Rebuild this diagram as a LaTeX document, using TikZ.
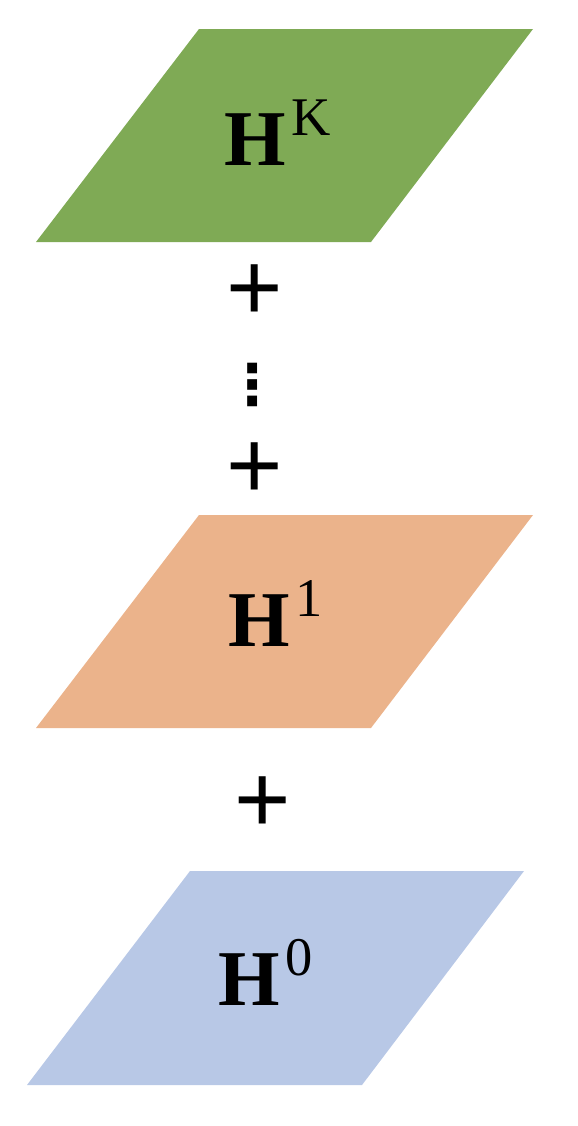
\documentclass[tikz,border=0pt]{standalone}
\usepackage{fontspec}
\setmainfont{Liberation Serif}
\newfontfamily\plusfont{Liberation Sans}
\newfontfamily\dotsfont{DejaVu Sans}
\usetikzlibrary{positioning}
\definecolor{layerk}{RGB}{127,170,85}
\definecolor{layerone}{RGB}{235,179,139}
\definecolor{layerzero}{RGB}{184,200,230}
\newcommand{\layername}[1]{\textbf{H}\kern3pt\raisebox{17pt}{\fontsize{31}{31}\selectfont #1}}

\begin{document}
\begin{tikzpicture}[x=0.02cm, y=-0.02cm, every node/.style={inner sep=0pt}]
  \useasboundingbox (0,0) rectangle (578,1126);
  % plates
  \fill[layerk] (199,29) -- (533,29) -- (371,242) -- (36,242) -- cycle;
  \fill[layerone] (199,515) -- (533,515) -- (371,728) -- (36,728) -- cycle;
  \fill[layerzero] (190,871) -- (524,871) -- (362,1085) -- (27,1085) -- cycle;

  \node[anchor=base west, font=\fontsize{45}{45}\selectfont] (hk) at (224,165) {\layername{K}};
  \node[anchor=base west, font=\fontsize{45}{45}\selectfont] (h1) at (228,646) {\layername{1}};
  \node[anchor=base west, font=\fontsize{45}{45}\selectfont] (h0) at (218,1005) {\layername{0}};

  \node[font=\plusfont\fontsize{55}{55}\selectfont] (p1) at (255,293) {+};
  \node[font=\dotsfont\bfseries\fontsize{32}{32}\selectfont] (vd) at (253,385) {⋮};
  \node[font=\plusfont\fontsize{55}{55}\selectfont] (p2) at (255,471) {+};
  \node[font=\plusfont\fontsize{55}{55}\selectfont] (p3) at (263,805) {+};
\end{tikzpicture}
\end{document}
